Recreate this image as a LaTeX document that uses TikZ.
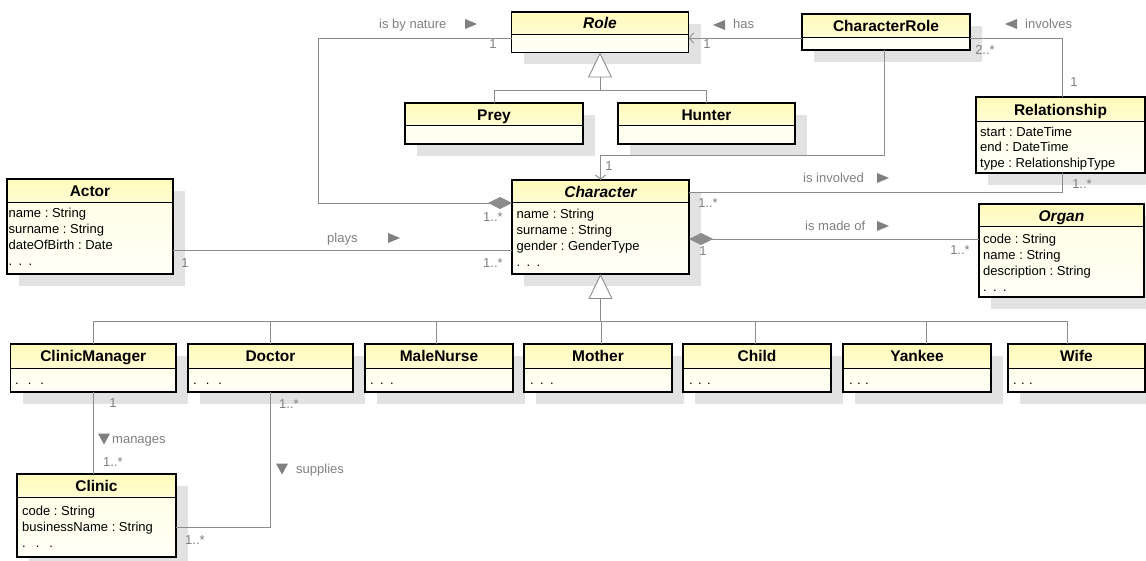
\documentclass[tikz,border=0pt]{standalone}
\usepackage{fontspec}
\setmainfont{Liberation Sans}
\usetikzlibrary{arrows.meta,calc}
\frenchspacing

\pgfdeclarelayer{shadowlayer}
\pgfsetlayers{shadowlayer,main}

\definecolor{hdtop}{RGB}{255,251,186}
\definecolor{hdbot}{RGB}{255,252,212}
\definecolor{bdtop}{RGB}{255,254,226}
\definecolor{bdbot}{RGB}{255,255,248}
\definecolor{shadowgray}{RGB}{226,226,226}
\definecolor{linkgray}{RGB}{140,140,140}
\definecolor{labelgray}{RGB}{128,128,128}

\tikzset{
  classframe/.style={draw=black, line width=1.2pt},
  divider/.style={draw=black, line width=1pt},
  titletext/.style={font=\fontsize{15.5}{18}\selectfont\bfseries, text height=11.2pt, text depth=0pt, inner sep=0pt},
  attrtext/.style={font=\fontsize{13}{16}\selectfont, anchor=base west, inner sep=0pt},
  link/.style={draw=linkgray, line width=0.9pt},
  lbl/.style={font=\fontsize{13}{16}\selectfont, text=labelgray, inner sep=0pt, text height=9.4pt, text depth=0pt},
  marker/.style={fill=labelgray},
  gentip/.style={-{Triangle[open, length=25pt, width=24pt, fill=white]}},
  navtip/.style={-{Straight Barb[length=4.5pt, width=10pt]}},
  compotip/.style={{Diamond[length=24pt, width=12pt, fill=linkgray]}-},
}

% class box: name, left, top, right, divider, bottom, title, title style
\newcommand\umlclass[8]{%
  \begin{pgfonlayer}{shadowlayer}
    \fill[shadowgray] (#2+12,#3+12) rectangle (#4+12,#6+12);
  \end{pgfonlayer}
  \node[inner sep=0pt, outer sep=0pt, anchor=north west,
        minimum width={#4-#2}, minimum height={#6-#3},
        top color=bdtop, bottom color=bdbot] (#1) at (#2,#3) {};
  \shade[top color=hdtop, bottom color=hdbot] (#2,#3) rectangle (#4,#5);
  \draw[divider] (#2,#5) -- (#4,#5);
  \draw[classframe] (#1.north west) rectangle (#1.south east);
  \node[titletext] (#1-title) at ({(#2+#4)/2},{(#3+#5)/2}) {#8#7};
}

% attribute lines: class name, x, first baseline, line skip, lines
\newcommand\umlattrs[5]{%
  \foreach \atxt [count=\k from 0] in {#5}
    \node[attrtext] (#1-attr\k) at (#2,{#3+#4*\k}) {\atxt};
}

\newcommand\dts[1]{.\hspace{#1pt}.\hspace{#1pt}.}

% direction markers beside association names (x = left edge, y = centre)
\newcommand\triR[2]{\fill[marker] (#1,#2-5) -- (#1+12,#2) -- (#1,#2+5) -- cycle;}
\newcommand\triL[2]{\fill[marker] (#1+12,#2-5) -- (#1,#2) -- (#1+12,#2+5) -- cycle;}
\newcommand\triD[2]{\fill[marker] (#1,#2-5.5) -- (#1+12,#2-5.5) -- (#1+6,#2+5.5) -- cycle;}

\begin{document}
\begin{tikzpicture}[x=1pt, y=-1pt]
\clip (0,0) rectangle (1146,561);
\begin{pgfonlayer}{shadowlayer}
  \fill[white] (0,0) rectangle (1146,561);
\end{pgfonlayer}

% ---------- classes ----------
\umlclass{role}{511.5}{12}{688.5}{34.5}{52.5}{Role}{\itshape}
\umlclass{prey}{405}{103}{583}{126}{144}{Prey}{}
\umlclass{hunter}{618}{103}{795}{126}{144}{Hunter}{}
\umlclass{charrole}{802}{14}{970}{38}{50}{CharacterRole}{}
\umlclass{relationship}{976}{97}{1145}{122}{173}{Relationship}{}
\umlclass{actor}{7}{179}{173}{203}{274}{Actor}{}
\umlclass{character}{512}{180}{689}{203}{274}{Character}{\itshape}
\umlclass{organ}{979}{204}{1144}{227}{297}{Organ}{\itshape}
\umlclass{manager}{10.5}{344}{176}{368}{392}{ClinicManager}{}
\umlclass{doctor}{188}{344}{353}{368}{392}{Doctor}{}
\umlclass{nurse}{365}{344}{513}{368}{392}{MaleNurse}{}
\umlclass{mother}{524}{344}{672}{368}{392}{Mother}{}
\umlclass{child}{683}{344}{831}{368}{392}{Child}{}
\umlclass{yankee}{843}{344}{991}{368}{392}{Yankee}{}
\umlclass{wife}{1008}{344}{1145}{368}{392}{Wife}{}
\umlclass{clinic}{17}{474}{176}{497}{557}{Clinic}{}

% ---------- attributes ----------
\umlattrs{relationship}{980}{136.3}{15.4}{start : DateTime, end : DateTime, type : RelationshipType}
\umlattrs{actor}{8.5}{217.7}{16}{name : String, surname : String, dateOfBirth : Date, \dts{6.4}}
\umlattrs{character}{516.5}{218.5}{16}{name : String, surname : String, gender : GenderType, \dts{6.4}}
\umlattrs{organ}{983}{243.5}{16}{code : String, name : String, description : String, \dts{6.4}}
\umlattrs{clinic}{22}{515.5}{16}{code : String, businessName : String, \dts{10}}
\umlattrs{manager}{15}{384.5}{16}{\dts{9}}
\umlattrs{doctor}{193}{384.5}{16}{\dts{9}}
\umlattrs{nurse}{370}{384.5}{16}{\dts{6.4}}
\umlattrs{mother}{530}{384.5}{16}{\dts{6.4}}
\umlattrs{child}{689}{384.5}{16}{\dts{5.4}}
\umlattrs{yankee}{849}{384.5}{16}{\dts{4.4}}
\umlattrs{wife}{1013}{384.5}{16}{\dts{4.4}}

% ---------- generalizations ----------
\coordinate (rolebus) at (600,90);
\draw[link, gentip] (rolebus) -- (role.south);
\draw[link] (prey.north) |- (rolebus);
\draw[link] (hunter.north) |- (rolebus);

\coordinate (charbus) at (600.5,321);
\draw[link, gentip] (charbus) -- (character.south);
\draw[link] (manager.north) |- (charbus);
\draw[link] (doctor.north) |- (charbus);
\draw[link] ([xshift=-3pt]nurse.north) |- (charbus);
\draw[link] ([xshift=3pt]mother.north) |- (charbus);
\draw[link] ([xshift=-2pt]child.north) |- (charbus);
\draw[link] ([xshift=9pt]yankee.north) |- (charbus);
\draw[link] ([xshift=-9.5pt]wife.north) |- (charbus);

% ---------- associations ----------
\draw[link, compotip] ([yshift=-23pt]character.north west) -- ++(-194,0) |- ([yshift=-26pt]role.north west);
\draw[link, navtip] ([yshift=-24pt]charrole.north west) -- ([yshift=-26pt]role.north east);
\draw[link] ([yshift=-24pt]charrole.north east) -| ([xshift=1.5pt]relationship.north);
\draw[link, navtip] ([xshift=-2pt]charrole.south) -- ++(0,105) -| (character.north);
\draw[link] ([yshift=-12pt]character.north east) -| ([xshift=1.5pt]relationship.south);
\draw[link] ([yshift=-71pt]actor.north east) -- ([yshift=-70pt]character.north west);
\draw[link, compotip] ([yshift=-59pt]character.north east) -- ([yshift=-35pt]organ.north west);
\draw[link] (manager.south) -- (manager.south |- clinic.north);
\draw[link] (doctor.south) |- ([yshift=-53pt]clinic.north east);

% ---------- association names ----------
\node[lbl, anchor=west] (n-nature) at (379,24) {is by nature};
\triR{465}{24}
\triL{713}{25}
\node[lbl, anchor=west] (n-has) at (733,24) {has};
\triL{1005}{24}
\node[lbl, anchor=west] (n-involves) at (1025,24) {involves};
\node[lbl, anchor=west] (n-involved) at (803,178) {is involved};
\triR{877}{178}
\node[lbl, anchor=west] (n-plays) at (327,238) {plays};
\triR{388}{238}
\node[lbl, anchor=west] (n-madeof) at (805,226) {is made of};
\triR{877}{226}
\triD{98}{439}
\node[lbl, anchor=west] (n-manages) at (112,439) {manages};
\triD{276}{469}
\node[lbl, anchor=west] (n-supplies) at (296,469) {supplies};

% ---------- multiplicities ----------
\node[lbl] (m1) at (493,44) {1};
\node[lbl] (m2) at (707,44) {1};
\node[lbl] (m3) at (985,50) {2..*};
\node[lbl] (m4) at (1074,82) {1};
\node[lbl] (m5) at (609,166) {1};
\node[lbl] (m6) at (1082,184) {1..*};
\node[lbl] (m7) at (708,203) {1..*};
\node[lbl] (m8) at (493,217) {1..*};
\node[lbl] (m9) at (185,263) {1};
\node[lbl] (m10) at (493,263) {1..*};
\node[lbl] (m11) at (703,251) {1};
\node[lbl] (m12) at (960,250) {1..*};
\node[lbl] (m13) at (113,403) {1};
\node[lbl] (m14) at (113,462) {1..*};
\node[lbl] (m15) at (289,404) {1..*};
\node[lbl] (m16) at (195,540) {1..*};
\end{tikzpicture}
\end{document}
